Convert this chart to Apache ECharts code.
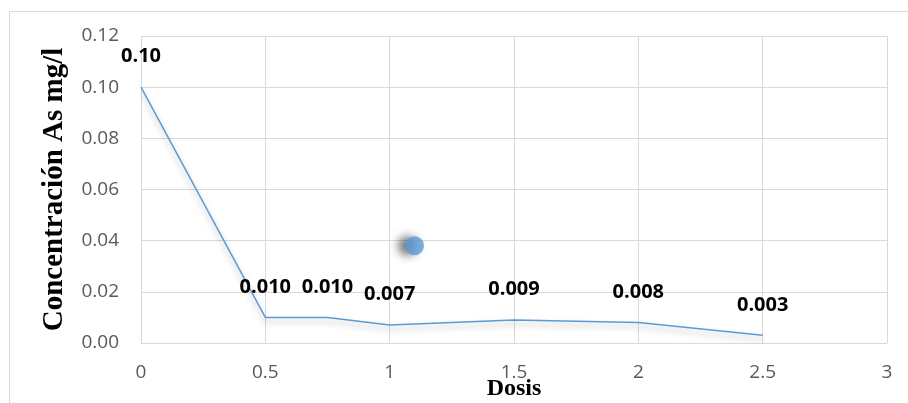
<!DOCTYPE html>
<html>
<head>
<meta charset="utf-8">
<script src="https://cdn.jsdelivr.net/npm/echarts@6/dist/echarts.min.js"></script>
<style>
  html, body { margin: 0; padding: 0; background: #fff; }
  #chart { width: 908px; height: 403px; }
</style>
</head>
<body>
<div id="chart"></div>
<script>
// Arsenic concentration against dose
const dosis = [0, 0.5, 0.75, 1, 1.5, 2, 2.5];
const concentracion = [0.10, 0.010, 0.010, 0.007, 0.009, 0.008, 0.003];
const etiquetas = ['0.10', '0.010', '0.010', '0.007', '0.009', '0.008', '0.003'];
const puntoSuelto = [[1.1, 0.038]];

const chart = echarts.init(document.getElementById('chart'));
const lineData = dosis.map((d, i) => [d, concentracion[i]]);

chart.setOption({
  animation: false,
  backgroundColor: '#fff',
  graphic: [{
    type: 'rect',
    shape: { x: 9.5, y: 11.5, width: 920, height: 420 },
    style: { fill: 'none', stroke: '#d9d9d9', lineWidth: 1 },
    silent: true
  }],
  grid: { left: 141, right: 21, top: 36, bottom: 60, outerBoundsMode: 'none', containLabel: false },
  xAxis: {
    type: 'value', min: 0, max: 3, interval: 0.5,
    name: 'Dosis', nameLocation: 'middle', nameGap: 34, nameMoveOverlap: false,
    nameTextStyle: { fontFamily: 'Liberation Serif', fontWeight: 'bold', fontSize: 24, color: '#000' },
    axisLine: { show: true, lineStyle: { color: '#d9d9d9', width: 1 } },
    axisTick: { show: false },
    axisLabel: { color: '#595959', fontSize: 19, fontFamily: 'Open Sans', margin: 20 },
    splitLine: { show: true, lineStyle: { color: '#d9d9d9', width: 1 } }
  },
  yAxis: {
    type: 'value', min: 0, max: 0.12, interval: 0.02,
    name: 'Concentración As mg/l', nameLocation: 'middle', nameGap: 72, nameMoveOverlap: false,
    nameTextStyle: { fontFamily: 'Liberation Serif', fontWeight: 'bold', fontSize: 29, color: '#000' },
    axisLine: { show: false },
    axisTick: { show: false },
    axisLabel: { color: '#595959', fontSize: 19, fontFamily: 'Open Sans', margin: 22,
      formatter: v => v.toFixed(2) },
    splitLine: { show: true, lineStyle: { color: '#d9d9d9', width: 1 } }
  },
  series: [{
    type: 'line',
    data: lineData,
    symbol: 'circle',
    symbolSize: 1,
    showSymbol: true,
    itemStyle: { color: 'rgba(0,0,0,0)' },
    lineStyle: { color: '#5B9BD5', width: 1.5, shadowColor: 'rgba(0,0,0,0.3)', shadowBlur: 6, shadowOffsetY: 4 },
    label: { show: true, position: 'top', distance: 20, color: '#000', fontWeight: 'bold',
      fontSize: 20, fontFamily: 'Open Sans',
      formatter: p => etiquetas[p.dataIndex] },
    labelLayout: { hideOverlap: false },
    z: 3
  }, {
    type: 'scatter',
    data: puntoSuelto,
    symbolSize: 19,
    itemStyle: { color: '#5B9BD5', shadowColor: 'rgba(0,0,0,0.7)', shadowBlur: 10, shadowOffsetX: -7, shadowOffsetY: 0 },
    z: 4
  }]
});
</script>
</body>
</html>
